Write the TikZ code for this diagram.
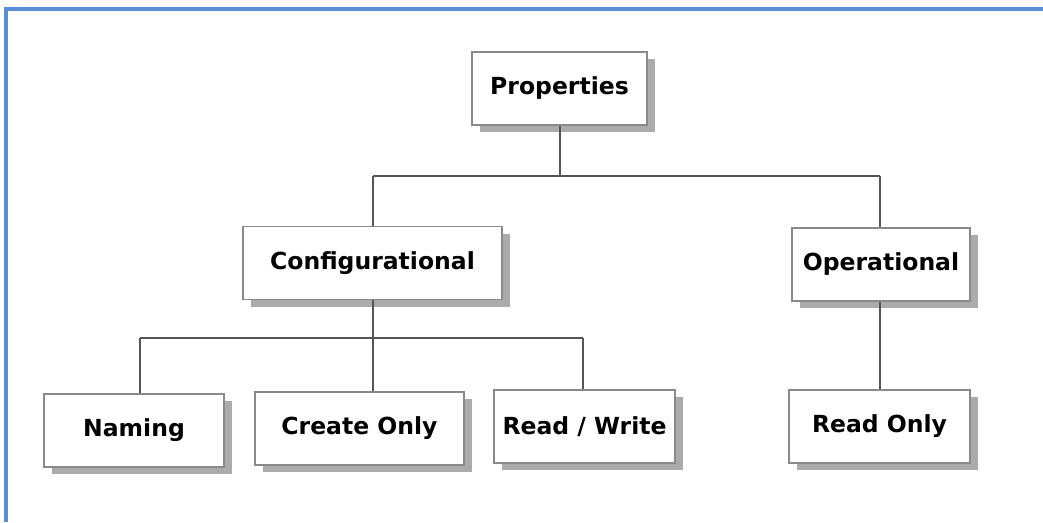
\documentclass[tikz,border=0pt]{standalone}
\usepackage{fontspec}
\setmainfont{DejaVu Sans}
\usetikzlibrary{shadows}
\definecolor{frameblue}{HTML}{5A8ED8}
\definecolor{boxline}{HTML}{8A8A8A}
\definecolor{shadowgray}{HTML}{ABABAB}
\definecolor{wire}{HTML}{555555}
\begin{document}
\begin{tikzpicture}[x=1pt,y=-1pt,
  box/.style={draw=boxline, line width=1.3pt, fill=white, minimum height=73pt,
    font=\fontsize{23.5}{28}\selectfont\bfseries, text=black,
    drop shadow={shadow xshift=8pt, shadow yshift=-7pt, fill=shadowgray, opacity=1}},
  wireline/.style={draw=wire, line width=1.3pt}]
\useasboundingbox (0,0) rectangle (1043,522);
\draw[frameblue, line width=3.2pt] (6,522) -- (6,9) -- (1043,9);
% nodes
\node[box, minimum width=175pt] (props) at (559.5,88.5) {Properties};
\node[box, minimum width=259pt] (config) at (372.5,263) {Configurational};
\node[box, minimum width=178pt] (oper) at (881,264.5) {Operational};
\node[box, minimum width=180pt] (naming) at (134,430.5) {Naming};
\node[box, minimum width=209pt] (create) at (359.5,428.5) {Create Only};
\node[box, minimum width=181pt] (rw) at (584.5,426.5) {Read / Write};
\node[box, minimum width=181pt] (ro) at (879.5,426.5) {Read Only};
% junctions
\coordinate (j1) at (560,176);
\coordinate (jc) at (373,176);
\coordinate (jo) at (880,176);
\coordinate (j2) at (373,338);
\coordinate (jn) at (140,338);
\coordinate (jcr) at (373,338);
\coordinate (jrw) at (583,338);
% connectors
\draw[wireline] (props.south -| j1) -- (j1);
\draw[wireline] (jc) -- (jo);
\draw[wireline] (jc) -- (jc |- config.north);
\draw[wireline] (jo) -- (jo |- oper.north);
\draw[wireline] (config.south -| j2) -- (j2);
\draw[wireline] (jn) -- (jrw);
\draw[wireline] (jn) -- (jn |- naming.north);
\draw[wireline] (jcr) -- (jcr |- create.north);
\draw[wireline] (jrw) -- (jrw |- rw.north);
\draw[wireline] (oper.south -| jo) -- (jo |- ro.north);
\end{tikzpicture}
\end{document}
